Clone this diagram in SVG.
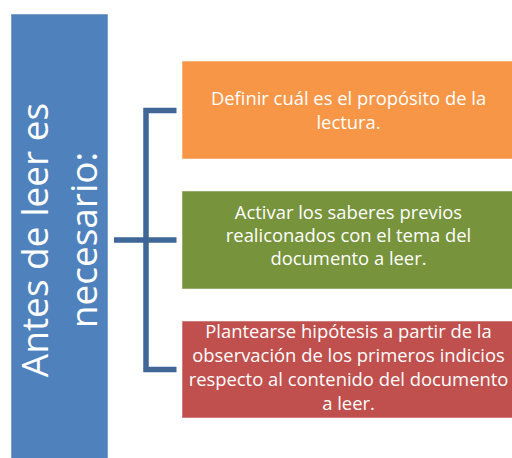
<svg xmlns="http://www.w3.org/2000/svg" width="512" height="458" viewBox="0 0 512 458">
<style>
.box{stroke:#ffffff;stroke-opacity:0.5;stroke-width:1}
.t{font-family:"Open Sans","Noto Sans","Liberation Sans",sans-serif;fill:#ffffff;text-anchor:middle}
.s{font-size:18.4px}
.b{font-size:37px}
.conn{fill:none;stroke:#3E6696;stroke-width:5.5;stroke-linejoin:miter;stroke-linecap:butt}
</style>
<rect width="512" height="458" fill="#ffffff"/>
<g id="root">
<rect class="box" x="11" y="14" width="97" height="450" fill="#4F81BD"/>
<g transform="translate(0,240) rotate(-90)">
<text class="t b" x="0" y="48">Antes de leer es</text>
<text class="t b" x="0" y="97">necesario:</text>
</g>
</g>
<g id="connectors">
<path class="conn" d="M176.5,110.5 H146 V369.5 H176.5"/>
<path class="conn" d="M114,240 H176.5"/>
</g>
<g id="n1">
<rect class="box" x="182" y="61" width="334" height="98" fill="#F79646"/>
<text class="t s" x="348.5" y="105">Definir cuál es el propósito de la</text>
<text class="t s" x="348.5" y="129">lectura.</text>
</g>
<g id="n2">
<rect class="box" x="182" y="191" width="334" height="98" fill="#77933C"/>
<text class="t s" x="348.5" y="219">Activar los saberes previos</text>
<text class="t s" x="348.5" y="242">realiconados con el tema del</text>
<text class="t s" x="348.5" y="265">documento a leer.</text>
</g>
<g id="n3">
<rect class="box" x="182" y="321" width="334" height="97" fill="#C0504D"/>
<text class="t s" x="348.5" y="338">Plantearse hipótesis a partir de la</text>
<text class="t s" x="348.5" y="362">observación de los primeros indicios</text>
<text class="t s" x="348.5" y="386">respecto al contenido del documento</text>
<text class="t s" x="348.5" y="410">a leer.</text>
</g>
</svg>
